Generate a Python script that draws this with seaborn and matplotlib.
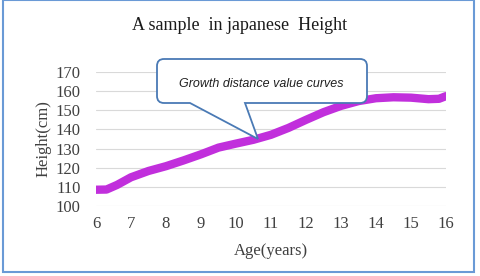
import matplotlib
matplotlib.use('Agg')
import matplotlib.pyplot as plt
from matplotlib.path import Path
from matplotlib.patches import PathPatch, Rectangle
import seaborn as sns
import pandas as pd

# datos
age = [6.0, 6.3, 6.6, 7.0, 7.5, 8.0, 8.5, 9.0, 9.5, 10.0, 10.5, 11.0,
       11.5, 12.0, 12.5, 13.0, 13.5, 14.0, 14.5, 15.0, 15.5, 15.8, 16.0]
height = [108.5, 108.6, 111.0, 115.0, 118.3, 120.8, 123.8, 127.0, 130.5,
          132.6, 134.6, 137.2, 140.8, 145.0, 149.0, 152.3, 154.8, 156.3,
          156.8, 156.6, 155.8, 156.0, 157.4]
x_ticks = [6, 7, 8, 9, 10, 11, 12, 13, 14, 15, 16]
y_ticks = [100, 110, 120, 130, 140, 150, 160, 170]

df = pd.DataFrame({'age': age, 'height': height})

sns.set_theme(style="white")
plt.rcParams['font.family'] = ['Liberation Serif', 'DejaVu Serif']

W, H = 480, 276
fig = plt.figure(figsize=(W / 100, H / 100), dpi=100)
ax = fig.add_axes([96 / W, 1 - 206 / H, 350 / W, 134 / H])

sns.lineplot(data=df, x='age', y='height', ax=ax, color='#c12fdc',
             linewidth=6, solid_capstyle='round', solid_joinstyle='round', zorder=3)

ax.set_xlim(6, 16)
ax.set_ylim(100, 170)
ax.set_xticks(x_ticks)
ax.set_yticks(y_ticks)
ax.tick_params(axis='x', labelsize=12, pad=7, length=0, colors='#404040')
ax.tick_params(axis='y', labelsize=12, pad=11, length=0, colors='#404040')
ax.grid(axis='y', color='#d9d9d9', linewidth=0.8)
ax.grid(axis='x', visible=False)
for s in ax.spines.values():
    s.set_visible(False)
ax.set_xlabel('Age(years)', fontsize=12, color='#404040', labelpad=8)
ax.set_ylabel('Height(cm)', fontsize=12, color='#404040', labelpad=3)

fig.text(0.5, 1 - 25 / H, 'A sample  in japanese  Height', ha='center', va='center',
         fontsize=13, color='#1a1a1a')

# globo de comentario (coordenadas en pixeles de la figura)
def px(x, y):
    return (x / W, 1 - y / H)

l, r, t, b, rad = 157, 367, 59, 103, 7
verts = [px(l + rad, t), px(r - rad, t), px(r, t), px(r, t + rad), px(r, b - rad),
         px(r, b), px(r - rad, b), px(245, b), px(258, 139), px(190, b),
         px(l + rad, b), px(l, b), px(l, b - rad), px(l, t + rad), px(l, t),
         px(l + rad, t), px(l + rad, t)]
codes = [Path.MOVETO, Path.LINETO, Path.CURVE3, Path.CURVE3, Path.LINETO,
         Path.CURVE3, Path.CURVE3, Path.LINETO, Path.LINETO, Path.LINETO,
         Path.LINETO, Path.CURVE3, Path.CURVE3, Path.LINETO, Path.CURVE3,
         Path.CURVE3, Path.CLOSEPOLY]
balloon = PathPatch(Path(verts, codes), transform=fig.transFigure,
                    facecolor='white', edgecolor='#4a7ab5', linewidth=1.3, zorder=5)
fig.add_artist(balloon)
fig.text(*px(261, 84), 'Growth distance value curves', ha='center', va='center',
         fontsize=9, style='italic', family=['Liberation Sans', 'DejaVu Sans'],
         color='#202020', zorder=6)

# marco exterior
fig.add_artist(Rectangle((3 / W, 4 / H), 471 / W, 1 - 4 / H, transform=fig.transFigure,
                         fill=False, edgecolor='#6a9ad6', linewidth=1.5))

fig.savefig('out.png', dpi=100)
plt.close(fig)
